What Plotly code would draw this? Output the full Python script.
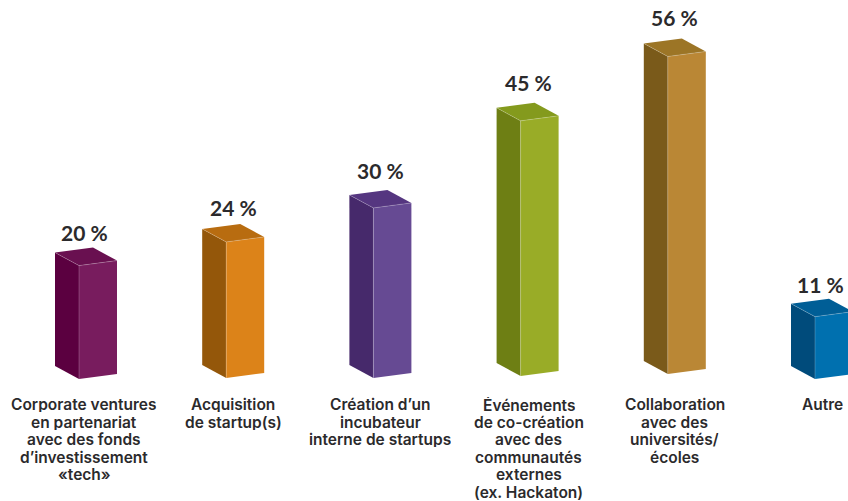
import plotly.graph_objects as go

# Survey results, one bar per approach
categories = [
    "Corporate ventures\nen partenariat\navec des fonds\nd’investissement\n«tech»",
    "Acquisition\nde startup(s)",
    "Création d’un\nincubateur\ninterne de startups",
    "Événements\nde co-création\navec des\ncommunautés\nexternes\n(ex. Hackaton)",
    "Collaboration\navec des\nuniversités/\nécoles",
    "Autre",
]
values = [20, 24, 30, 45, 56, 11]

# Face colours of each box
front_colors = ["#781C5E", "#DC8319", "#664A93", "#99AC27", "#BA8735", "#0070AF"]
side_colors = ["#5B0040", "#94570A", "#46296B", "#6E7F14", "#7A5A1A", "#004B7B"]
top_colors = ["#691050", "#B86C10", "#553680", "#849A1D", "#9C7526", "#005E96"]

# Canvas and scale
WIDTH, HEIGHT = 848, 501
BOTTOM_MARGIN = 122
PX_PER_BAR = 147.2
PX_PER_PCT = 5.67
FIRST_BAR_PX = 79

# Box projection, in pixels
FRONT_W, FRONT_RISE = 38, 5
DEPTH_W, DEPTH_RISE = 24, 13
base_lift_px = [0, 1, 1, 3, 5, 0]
value_gap_px = [15, 16, 19, 20, 21, 14]
value_nudge_px = [-2, 0, 0, 1, 0, -2]
label_nudge_px = [-2, 0, 0, 1, 0, 0]

# Category captions: the line pitch is tighter than the default for this size
LABEL_DROP_PX = 25.5
LABEL_PITCH_PX = 17.6
LABEL_SIZE = 15.5

TEXT = "#2B2A2C"
VALUE_FONT = "Lato"
LABEL_FONT = "Inter"


def dx(px):
    return px / PX_PER_BAR


def dy(px):
    return px / PX_PER_PCT


fig = go.Figure()

for i, value in enumerate(values):
    base = dy(base_lift_px[i])
    top = base + value
    fx0, fx1 = i, i + dx(FRONT_W)
    bx0, bx1 = i - dx(DEPTH_W), fx1 - dx(DEPTH_W)
    rise = dy(FRONT_RISE)
    depth = dy(DEPTH_RISE)

    faces = [
        (side_colors[i], [bx0, fx0, fx0, bx0], [base + depth, base, top, top + depth]),
        (front_colors[i], [fx0, fx1, fx1, fx0], [base, base + rise, top + rise, top]),
        (top_colors[i], [fx0, fx1, bx1, bx0], [top, top + rise, top + rise + depth, top + depth]),
    ]
    for color, xs, ys in faces:
        fig.add_trace(go.Scatter(
            x=xs, y=ys, mode="lines", fill="toself", fillcolor=color,
            line=dict(width=0), hoverinfo="skip", showlegend=False,
        ))
    # Thin highlight along the shared edges
    fig.add_trace(go.Scatter(
        x=[bx0, fx0, fx1, None, fx0, fx0],
        y=[top + depth, top, top + rise, None, top, base],
        mode="lines", line=dict(width=0.6, color="rgba(255,255,255,0.35)"),
        hoverinfo="skip", showlegend=False,
    ))
    center = i + dx((FRONT_W - DEPTH_W) / 2)
    fig.add_annotation(
        x=center + dx(value_nudge_px[i]), y=top + rise + depth,
        text=f"{value} %", showarrow=False, yanchor="middle", yshift=value_gap_px[i],
        font=dict(family=VALUE_FONT, size=21, color=TEXT, weight=700),
    )
    for k, line in enumerate(categories[i].split("\n")):
        fig.add_annotation(
            x=center + dx(label_nudge_px[i]), y=0, text=line, showarrow=False,
            yanchor="middle", yshift=-(LABEL_DROP_PX + k * LABEL_PITCH_PX),
            height=15, borderpad=0,
            font=dict(family=LABEL_FONT, size=LABEL_SIZE, color=TEXT, weight=600),
        )

fig.update_xaxes(
    range=[-FIRST_BAR_PX / PX_PER_BAR, (WIDTH - FIRST_BAR_PX) / PX_PER_BAR],
    visible=False, showgrid=False, zeroline=False,
)
fig.update_yaxes(
    range=[0, (HEIGHT - BOTTOM_MARGIN) / PX_PER_PCT],
    visible=False, showgrid=False, zeroline=False,
)
fig.update_layout(
    width=WIDTH, height=HEIGHT,
    margin=dict(l=0, r=0, t=0, b=BOTTOM_MARGIN),
    paper_bgcolor="white", plot_bgcolor="white",
    showlegend=False,
)

fig.write_html("out.html", config=dict(displayModeBar=False))
